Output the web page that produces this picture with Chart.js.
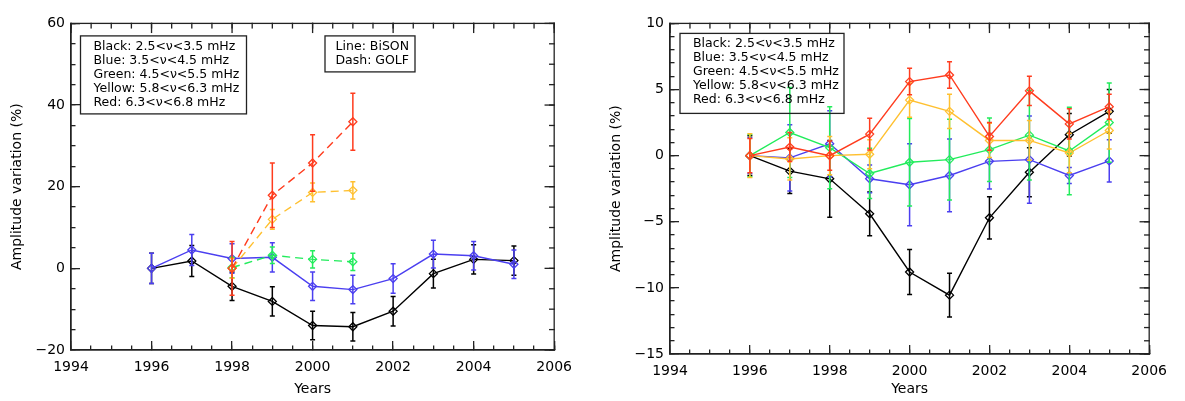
<!DOCTYPE html>
<html>
<head>
<meta charset="utf-8">
<script src="https://cdn.jsdelivr.net/npm/chart.js@4.4.1/dist/chart.umd.min.js"></script>
<style>
  body { margin: 0; background: #fff; }
  #wrap { display: flex; width: 1185px; height: 401px; }
  canvas { flex: none; }
</style>
</head>
<body>
<div id="wrap">
  <canvas id="leftCanvas" width="590" height="401"></canvas>
  <canvas id="rightCanvas" width="595" height="401"></canvas>
</div>
<script>
// years
const years = [1996, 1997, 1998, 1999, 2000, 2001, 2002, 2003, 2004, 2005];
const golfYears = [1998, 1999, 2000, 2001];

// left panel: BiSON (solid)
const bisonBlack = [0, 1.8, -4.4, -8.1, -14.0, -14.3, -10.5, -1.3, 2.2, 1.9];
const bisonBlackErr = [3.7, 3.8, 3.5, 3.6, 3.5, 3.5, 3.6, 3.5, 3.6, 3.6];
const bisonBlue = [0, 4.5, 2.4, 2.7, -4.4, -5.2, -2.5, 3.5, 3.1, 1.0];
const bisonBlueErr = [3.7, 3.8, 3.6, 3.6, 3.5, 3.5, 3.6, 3.4, 3.5, 3.5];

// left panel: GOLF (dashed)
const golfGreen = [0.2, 3.2, 2.2, 1.6];
const golfGreenErr = [2.5, 2.0, 2.1, 2.1];
const golfYellow = [0, 12.0, 18.6, 19.1];
const golfYellowErr = [2.4, 2.4, 2.3, 2.1];
const golfRed = [0, 17.9, 25.8, 35.9];
const golfRedErr = [6.6, 7.9, 6.9, 7.0];

// right panel
const rBlack = [0, -1.17, -1.75, -4.4, -8.8, -10.55, -4.7, -1.26, 1.58, 3.35];
const rBlackErr = [1.5, 1.7, 2.9, 1.65, 1.7, 1.65, 1.6, 1.85, 1.6, 1.65];
const rBlue = [0, -0.17, 0.9, -1.75, -2.2, -1.5, -0.43, -0.3, -1.5, -0.4];
const rBlueErr = [1.35, 2.5, 2.5, 1.05, 3.1, 2.75, 2.1, 3.3, 0.6, 1.6];
const rGreen = [0, 1.75, 0.6, -1.35, -0.5, -0.3, 0.45, 1.55, 0.35, 2.5];
const rGreenErr = [1.6, 3.4, 3.1, 1.9, 3.3, 3.05, 2.4, 3.4, 3.3, 3.0];
const rYellow = [0, -0.25, 0, 0.1, 4.2, 3.35, 1.15, 1.15, 0.2, 1.9];
const rYellowErr = [1.65, 1.6, 1.45, 1.1, 1.3, 1.3, 1.3, 1.5, 1.5, 1.4];
const rRed = [0, 0.65, 0, 1.63, 5.6, 6.1, 1.45, 4.9, 2.4, 3.7];
const rRedErr = [1.3, 1.1, 1.1, 1.2, 1.0, 1.0, 1.05, 1.1, 1.15, 0.95];

const legendLines = [
  'Black: 2.5<\u03bd<3.5 mHz',
  'Blue: 3.5<\u03bd<4.5 mHz',
  'Green: 4.5<\u03bd<5.5 mHz',
  'Yellow: 5.8<\u03bd<6.3 mHz',
  'Red: 6.3<\u03bd<6.8 mHz'
];
const sourceLines = ['Line: BiSON', 'Dash: GOLF'];

const BLACK = '#000000', BLUE = '#4b3ff0', GREEN = '#22ec5c', YELLOW = '#ffc030', RED = '#ff3c1e';
const FRAME = '#222222';
const FONT = 'DejaVu Sans';

function pts(xs, ys) {
  return xs.map((x, i) => ({x: x, y: ys[i]}));
}

function series(xs, ys, errs, color, order, dashed) {
  return {
    data: pts(xs, ys),
    errors: errs,
    xAxisID: 'x',
    yAxisID: 'y',
    borderColor: color,
    backgroundColor: 'rgba(0,0,0,0)',
    borderWidth: 1.4,
    borderDash: dashed ? [8, 5] : [],
    pointStyle: 'rectRot',
    pointRadius: 4,
    pointBorderWidth: 1.3,
    pointBorderColor: color,
    pointBackgroundColor: 'rgba(0,0,0,0)',
    tension: 0,
    order: order
  };
}

// error bars, drawn with the dataset they belong to
const errorBars = {
  id: 'errorBars',
  afterDatasetDraw(chart, args) {
    let ds = chart.data.datasets[args.index];
    if (!ds.errors) return;
    let ctx = chart.ctx, x = chart.scales.x, y = chart.scales.y;
    ctx.save();
    ctx.strokeStyle = ds.borderColor;
    ctx.lineWidth = 1.5;
    ctx.setLineDash([]);
    ds.data.forEach((p, i) => {
      let px = x.getPixelForValue(p.x);
      let top = y.getPixelForValue(p.y + ds.errors[i]);
      let bot = y.getPixelForValue(p.y - ds.errors[i]);
      ctx.beginPath();
      ctx.moveTo(px, top); ctx.lineTo(px, bot);
      ctx.moveTo(px - 2.5, top); ctx.lineTo(px + 2.5, top);
      ctx.moveTo(px - 2.5, bot); ctx.lineTo(px + 2.5, bot);
      ctx.stroke();
    });
    ctx.restore();
  }
};

// top and right edges of the box with their inward ticks, then the text boxes
const notes = {
  id: 'notes',
  afterDraw(chart, args, opts) {
    let ctx = chart.ctx;
    let x = chart.scales.x, y = chart.scales.y;
    let L = x.getPixelForValue(x.min), R = x.getPixelForValue(x.max);
    let T = y.getPixelForValue(y.max), B = y.getPixelForValue(y.min);
    ctx.save();
    ctx.setLineDash([]);
    ctx.strokeStyle = FRAME;
    ctx.lineWidth = 1.3;

    ctx.strokeRect(L, T, R - L, B - T);

    let marks = [[x, 2, 9], [x, 0.5, 4.5], [y, opts.ystep, 9], [y, opts.yminor, 4.5]];
    marks.forEach(m => {
      let scale = m[0], step = m[1], len = m[2];
      let n = Math.round((scale.max - scale.min) / step);
      for (let k = 0; k <= n; k++) {
        let p = scale.getPixelForValue(scale.min + k * step);
        if (scale === x) {
          ctx.strokeRect(p, T, 0.01, len);
        } else {
          ctx.strokeRect(R - len, p, len, 0.01);
        }
      }
    });

    ctx.fillStyle = '#000';
    ctx.font = '12.5px "' + FONT + '"';
    ctx.textBaseline = 'middle';
    (opts.boxes || []).forEach(b => {
      ctx.strokeRect(L + b.x, T + b.y, b.w, b.h);
      ctx.textAlign = b.align;
      b.lines.forEach((t, i) => {
        ctx.fillText(t, L + b.tx, T + b.ty + i * 14);
      });
    });
    ctx.restore();
  }
};

function minus(v) {
  return String(v).replace('-', '\u2212');
}

// extra axes that only draw the minor inward tick marks
function minorAxis(axis, position, step, min, max) {
  return {
    type: 'linear', axis: axis, position: position, min: min, max: max, weight: -1,
    grid: {display: true, drawOnChartArea: false, drawTicks: true, tickLength: -4.5,
      color: FRAME, tickColor: FRAME, lineWidth: 1.3, tickWidth: 1.3},
    border: {display: false},
    ticks: {display: false, stepSize: step, autoSkip: false},
    afterFit: s => { if (axis === 'x') s.height = 0; else s.width = 0; }
  };
}

function makeOptions(cfg) {
  let tickGrid = {display: true, drawOnChartArea: false, drawTicks: true, tickLength: -9,
    color: FRAME, tickColor: FRAME, lineWidth: 1.3, tickWidth: 1.3};
  return {
    responsive: false,
    animation: false,
    layout: {padding: {top: cfg.top, right: cfg.right, left: 0, bottom: 0}},
    plugins: {
      legend: {display: false},
      tooltip: {enabled: false},
      notes: {boxes: cfg.boxes, ystep: cfg.ystep, yminor: cfg.yminor}
    },
    scales: {
      x: {
        type: 'linear', axis: 'x', position: 'bottom', weight: 0, min: 1994, max: 2006,
        grid: tickGrid,
        border: {display: true, color: FRAME, width: 1.3},
        ticks: {stepSize: 2, autoSkip: false, maxRotation: 0, padding: 18, color: '#000',
          font: {family: FONT, size: 14}, callback: v => String(v)},
        title: {display: true, text: 'Years', color: '#000', font: {family: FONT, size: 14},
          padding: {top: 0, bottom: 3}},
        afterFit: s => { s.height = cfg.xh; }
      },
      y: {
        type: 'linear', axis: 'y', position: 'left', weight: 0, min: cfg.ymin, max: cfg.ymax,
        grid: tickGrid,
        border: {display: true, color: FRAME, width: 1.3},
        ticks: {stepSize: cfg.ystep, autoSkip: false, padding: 15, color: '#000',
          font: {family: FONT, size: 14}, callback: v => minus(v)},
        title: {display: true, text: 'Amplitude variation (%)', color: '#000',
          font: {family: FONT, size: 14}, padding: {top: cfg.ytp, bottom: 0}},
        afterFit: s => { s.width = cfg.yw; }
      },
      xm: minorAxis('x', 'bottom', 0.5, 1994, 2006),
      ym: minorAxis('y', 'left', cfg.yminor, cfg.ymin, cfg.ymax)
    }
  };
}

let leftChart = new Chart(document.getElementById('leftCanvas').getContext('2d'), {
  type: 'line',
  data: {
    datasets: [
      series(years, bisonBlack, bisonBlackErr, BLACK, 5, false),
      series(years, bisonBlue, bisonBlueErr, BLUE, 4, false),
      series(golfYears, golfGreen, golfGreenErr, GREEN, 3, true),
      series(golfYears, golfYellow, golfYellowErr, YELLOW, 2, true),
      series(golfYears, golfRed, golfRedErr, RED, 1, true)
    ]
  },
  options: makeOptions({
    top: 7, right: 30, xh: 51, yw: 71, ytp: 9,
    ymin: -20, ymax: 60, ystep: 20, yminor: 5,
    boxes: [
      {x: 9.5, y: 12.5, w: 166, h: 78, tx: 22.5, ty: 23, align: 'left', lines: legendLines},
      {x: 254, y: 12.5, w: 90, h: 36, tx: 338, ty: 23, align: 'right', lines: sourceLines}
    ]
  }),
  plugins: [errorBars, notes]
});

let rightChart = new Chart(document.getElementById('rightCanvas').getContext('2d'), {
  type: 'line',
  data: {
    datasets: [
      series(years, rBlack, rBlackErr, BLACK, 5, false),
      series(years, rBlue, rBlueErr, BLUE, 4, false),
      series(years, rGreen, rGreenErr, GREEN, 3, false),
      series(years, rYellow, rYellowErr, YELLOW, 2, false),
      series(years, rRed, rRedErr, RED, 1, false)
    ]
  },
  options: makeOptions({
    top: 9, right: 27, xh: 47, yw: 80, ytp: 18,
    ymin: -15, ymax: 10, ystep: 5, yminor: 1,
    boxes: [
      {x: 10, y: 10, w: 164, h: 80, tx: 23, ty: 20.5, align: 'left', lines: legendLines}
    ]
  }),
  plugins: [errorBars, notes]
});
</script>
</body>
</html>
